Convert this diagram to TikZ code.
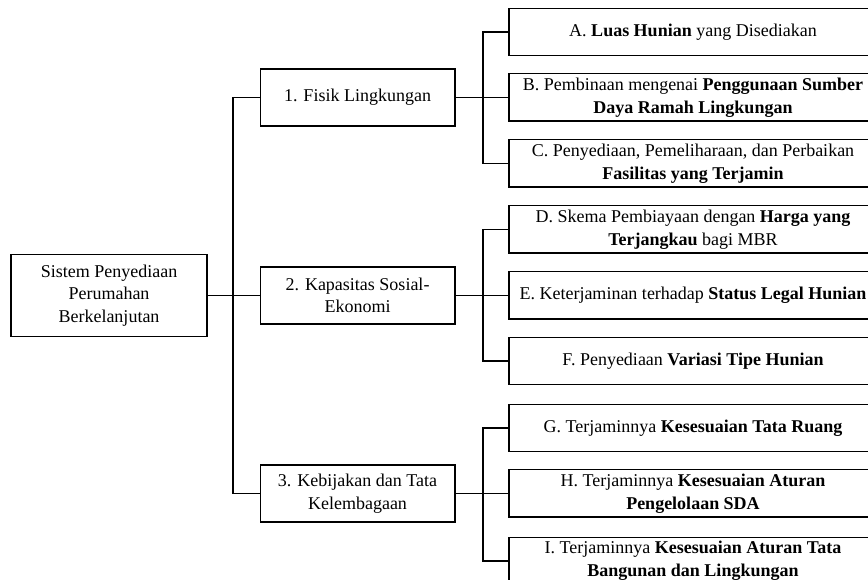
\documentclass[tikz,border=0pt]{standalone}
\usepackage{fontspec}
\setmainfont{Liberation Serif}
\usetikzlibrary{calc}
\tikzstyle{box} = [draw, line width=1pt, align=center, inner sep=2pt, font=\fontsize{13.5}{17}\selectfont]
\tikzstyle{rootbox} = [box, minimum width=147pt, minimum height=61.5pt]
\tikzstyle{aspek} = [box, minimum width=146pt, minimum height=42.75pt]
\tikzstyle{kriteria} = [box, minimum width=276pt, minimum height=35.5pt]
\tikzstyle{garis} = [line width=1pt]

\begin{document}
\begin{tikzpicture}[x=0.75pt,y=0.75pt,yscale=-1,xscale=1]
\useasboundingbox (0,0) rectangle (868,580);
\clip (0,0) rectangle (868,580);

% Bus lines
\coordinate (bus1) at (233,0);
\coordinate (bus2) at (483,0);

%Shape: Rectangle (root)
\node [rootbox] (root) at (109,295.5) {Sistem Penyediaan\\Perumahan\\Berkelanjutan};

%Shape: Rectangle (aspek)
\node [aspek] (f1) at (357.5,97.5) {1. Fisik Lingkungan};
\node [aspek] (f2) at (357.5,295.5) {2. Kapasitas Sosial-\\Ekonomi};
\node [aspek] (f3) at (357.5,493.5) {3. Kebijakan dan Tata\\Kelembagaan};

%Shape: Rectangle (kriteria)
\node [kriteria] (a) at (693,32) {A. \textbf{Luas Hunian} yang Disediakan};
\node [kriteria] (b) at (693,97.5) {B. Pembinaan mengenai \textbf{Penggunaan Sumber}\\\textbf{Daya Ramah Lingkungan}};
\node [kriteria] (c) at (693,163.5) {C. Penyediaan, Pemeliharaan, dan Perbaikan\\\textbf{Fasilitas yang Terjamin}};
\node [kriteria] (d) at (693,229.5) {D. Skema Pembiayaan dengan \textbf{Harga yang}\\\textbf{Terjangkau} bagi MBR};
\node [kriteria] (e) at (693,295.5) {E. Keterjaminan terhadap \textbf{Status Legal Hunian}};
\node [kriteria] (f) at (693,361) {F. Penyediaan \textbf{Variasi Tipe Hunian}};
\node [kriteria] (g) at (693,428) {G. Terjaminnya \textbf{Kesesuaian Tata Ruang}};
\node [kriteria] (h) at (693,493.5) {H. Terjaminnya \textbf{Kesesuaian Aturan}\\\textbf{Pengelolaan SDA}};
\node [kriteria] (i) at (693,561) {I. Terjaminnya \textbf{Kesesuaian Aturan Tata}\\\textbf{Bangunan dan Lingkungan}};

%Straight Lines
\draw [garis] (root.east) -- (f2.west);
\draw [garis] (f1.west) -- (f1.west -| bus1) -- (f3.west -| bus1) -- (f3.west);

\draw [garis] (f1.east) -- (b.west);
\draw [garis] (a.west) -- (a.west -| bus2) -- (c.west -| bus2) -- (c.west);
\draw [garis] (f2.east) -- (e.west);
\draw [garis] (d.west) -- (d.west -| bus2) -- (f.west -| bus2) -- (f.west);
\draw [garis] (f3.east) -- (h.west);
\draw [garis] (g.west) -- (g.west -| bus2) -- (i.west -| bus2) -- (i.west);

\end{tikzpicture}
\end{document}
